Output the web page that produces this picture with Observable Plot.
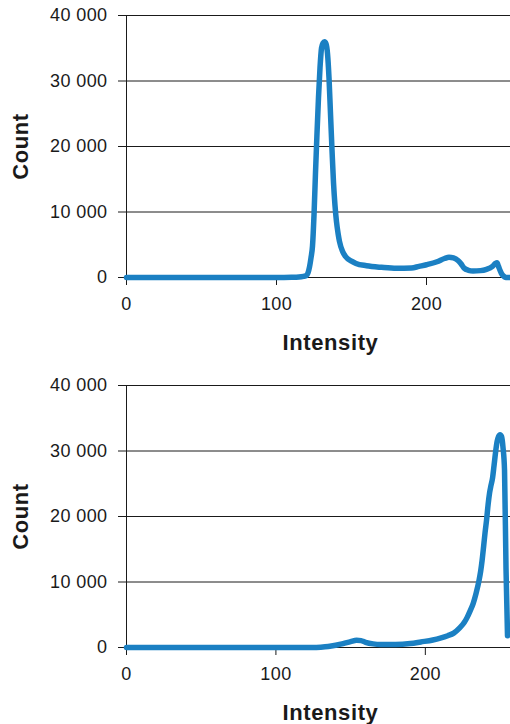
<!DOCTYPE html>
<html><head><meta charset="utf-8">
<script src="https://cdn.jsdelivr.net/npm/d3@7"></script>
<script src="https://cdn.jsdelivr.net/npm/@observablehq/plot@0.6"></script>
<style>
body{margin:0;background:#fff;font-family:"Liberation Sans",Arial,sans-serif;}
#top{position:absolute;left:0;top:0;}
#bottom{position:absolute;left:0;top:370px;}
svg text{letter-spacing:0.4px;}
g[font-weight="bold"] text{letter-spacing:0.6px;}
</style>
</head><body>
<div id="top"></div><div id="bottom"></div>
<script>
// Top histogram
const topIntensity = [0, 100, 110, 115, 118, 120, 121, 122, 123, 124, 125, 126, 127, 128, 129, 130, 131, 132, 133, 134, 135, 136, 137, 138, 139, 140, 141, 142, 144, 146, 150, 153, 160, 170, 180, 190, 195, 200, 207, 212, 215, 218, 221, 223, 225, 228, 231, 236, 240, 244, 246, 247, 248, 249, 250, 252, 253, 255];
const topCount = [0, 0, 30, 80, 180, 300, 700, 1600, 3000, 4800, 9500, 16000, 22000, 27500, 32000, 35000, 35800, 36000, 35700, 34200, 30500, 25000, 19500, 14500, 11000, 8500, 6800, 5500, 4000, 3200, 2500, 2150, 1800, 1550, 1400, 1450, 1700, 1950, 2400, 2900, 3100, 3000, 2600, 2100, 1450, 1100, 1000, 1050, 1250, 1700, 2150, 2250, 1700, 1100, 600, 100, 0, 0];

// Bottom histogram
const bottomIntensity = [0, 125, 130, 135, 140, 145, 150, 154, 157, 160, 165, 170, 180, 190, 197, 205, 210, 215, 219, 223, 226, 228, 230, 232, 234, 236, 237, 238, 239, 240, 241, 242, 243, 244, 245, 246, 247, 248, 249, 250, 251, 252, 253, 254, 255];
const bottomCount = [0, 0, 50, 150, 350, 600, 900, 1100, 1050, 800, 550, 450, 450, 600, 850, 1150, 1430, 1800, 2200, 3000, 3800, 4600, 5600, 6700, 8300, 10300, 11600, 13300, 15400, 17600, 19500, 21800, 23600, 24800, 25900, 27800, 29800, 31400, 32200, 32500, 32200, 30500, 27100, 12000, 1800];

const yTicks = [0, 10000, 20000, 30000, 40000];
const xTicks = [0, 100, 200];
const yLabel = "Count";
const xLabel = "Intensity";

const fmt = d => d3.format(",")(d).replace(/,/g, " ");

function chart(xs, ys, xMax) {
  const data = xs.map((x, i) => ({intensity: x, count: ys[i]}));
  return Plot.plot({
    width: 510,
    height: 354,
    marginTop: 15,
    marginBottom: 77,
    marginLeft: 126,
    marginRight: 0,
    style: {fontFamily: "'Liberation Sans', Arial, sans-serif", fontSize: "18px", color: "#1a1a1a", background: "white", overflow: "visible"},
    x: {domain: [0, xMax]},
    y: {domain: [0, 40000]},
    marks: [
      Plot.gridY(yTicks, {stroke: "#1a1a1a", strokeOpacity: 1}),
      Plot.ruleX([0], {stroke: "#1a1a1a"}),
      Plot.axisY({ticks: yTicks, tickSize: 8, tickPadding: 11, tickFormat: fmt, stroke: "#1a1a1a", strokeOpacity: 1, label: null}),
      Plot.axisY({ticks: [], label: yLabel, labelAnchor: "center", labelArrow: "none", labelOffset: 114, fontWeight: "bold", fontSize: 22}),
      Plot.axisX({ticks: xTicks, tickSize: 8, tickPadding: 12, stroke: "#1a1a1a", strokeOpacity: 1, label: null}),
      Plot.text([xLabel], {frameAnchor: "bottom", lineAnchor: "bottom", dx: 12, dy: 72, fontWeight: "bold", fontSize: 22, fill: "#1a1a1a"}),
      Plot.line(data, {x: "intensity", y: "count", stroke: "#1b80c3", strokeWidth: 5.5, curve: "monotone-x"})
    ]
  });
}

document.getElementById("top").append(chart(topIntensity, topCount, 256));
document.getElementById("bottom").append(chart(bottomIntensity, bottomCount, 257));
</script>
</body></html>
